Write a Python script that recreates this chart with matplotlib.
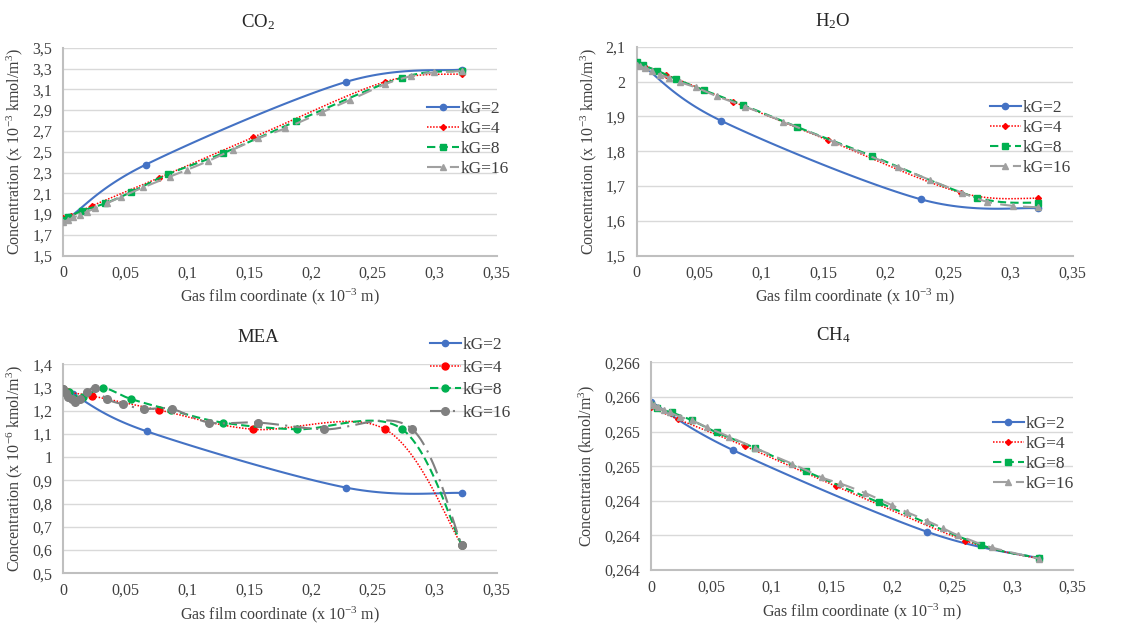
import matplotlib
matplotlib.use("Agg")
import matplotlib.pyplot as plt
import numpy as np
from matplotlib.ticker import FuncFormatter, MultipleLocator

plt.rcParams['font.family'] = ['Liberation Serif', 'DejaVu Serif']
plt.rcParams['mathtext.fontset'] = 'custom'
plt.rcParams['mathtext.rm'] = 'Liberation Serif'
plt.rcParams['mathtext.it'] = 'Liberation Serif:italic'

series_labels = ['kG=2', 'kG=4', 'kG=8', 'kG=16']

# ---- CO2 (x 1e-3 kmol/m3) ----
co2_x2 = [0, 0.005, 0.0665, 0.228, 0.322]
co2_y2 = [1.843, 1.87, 2.375, 3.17, 3.29]
co2_x4 = [0, 0.006, 0.0229, 0.0775, 0.1535, 0.26, 0.322]
co2_y4 = [1.86, 1.88, 1.978, 2.25, 2.638, 3.173, 3.247]
co2_x8 = [0, 0.004, 0.0148, 0.0337, 0.0544, 0.0848, 0.1287, 0.188, 0.2733, 0.322]
co2_y8 = [1.843, 1.87, 1.93, 2.003, 2.109, 2.285, 2.484, 2.792, 3.212, 3.276]
co2_x16 = [0, 0.004, 0.008, 0.0135, 0.019, 0.026, 0.035, 0.047, 0.0646, 0.086, 0.0996,
           0.117, 0.137, 0.1575, 0.179, 0.2087, 0.2316, 0.26, 0.281, 0.299, 0.322]
co2_y16 = [1.827, 1.843, 1.868, 1.89, 1.923, 1.955, 2.003, 2.067, 2.157, 2.26, 2.324,
           2.41, 2.52, 2.628, 2.724, 2.878, 2.997, 3.15, 3.227, 3.262, 3.275]

# ---- H2O (x 1e-3 kmol/m3) ----
h2o_x2 = [0, 0.005, 0.0674, 0.228, 0.3224]
h2o_y2 = [2.052, 2.045, 1.888, 1.662, 1.636]
h2o_x4 = [0, 0.006, 0.0233, 0.0776, 0.1533, 0.26, 0.3224]
h2o_y4 = [2.054, 2.046, 2.02, 1.942, 1.832, 1.681, 1.665]
h2o_x8 = [0, 0.0048, 0.0166, 0.0316, 0.054, 0.085, 0.1284, 0.189, 0.273, 0.3224]
h2o_y8 = [2.055, 2.047, 2.031, 2.007, 1.975, 1.933, 1.870, 1.786, 1.667, 1.652]
h2o_x16 = [0, 0.003, 0.007, 0.012, 0.0187, 0.026, 0.0348, 0.0476, 0.0642, 0.087, 0.1177,
           0.158, 0.21, 0.2355, 0.261, 0.281, 0.302, 0.3224]
h2o_y16 = [2.047, 2.044, 2.038, 2.03, 2.019, 2.011, 1.998, 1.983, 1.958, 1.928, 1.885,
           1.827, 1.754, 1.717, 1.681, 1.655, 1.643, 1.639]

# ---- MEA (x 1e-6 kmol/m3) ----
mea_x2 = [0, 0.008, 0.0673, 0.2283, 0.3217]
mea_y2 = [1.289, 1.27, 1.1115, 0.869, 0.846]
mea_x4 = [0, 0.004, 0.0229, 0.0775, 0.1535, 0.26, 0.3217]
mea_y4 = [1.292, 1.28, 1.264, 1.203, 1.12, 1.12, 0.622]
mea_x8 = [0, 0.0048, 0.0156, 0.0318, 0.0544, 0.0867, 0.1287, 0.1885, 0.2733, 0.3217]
mea_y8 = [1.292, 1.279, 1.258, 1.298, 1.251, 1.203, 1.149, 1.12, 1.122, 0.622]
mea_x16 = [0, 0.002, 0.004, 0.0067, 0.0094, 0.0135, 0.0188, 0.0256, 0.035, 0.048, 0.065,
           0.0875, 0.118, 0.1575, 0.2105, 0.2813, 0.3217]
mea_y16 = [1.292, 1.275, 1.258, 1.249, 1.238, 1.25, 1.279, 1.298, 1.251, 1.228, 1.208,
           1.208, 1.149, 1.149, 1.12, 1.123, 0.622]

# ---- CH4 (kmol/m3) ----
ch4_x2 = [0, 0.0678, 0.2288, 0.3224]
ch4_y2 = [0.265545, 0.264987, 0.264043, 0.263735]
ch4_x4 = [0, 0.0227, 0.078, 0.1533, 0.2607, 0.3224]
ch4_y4 = [0.26548, 0.26534, 0.26503, 0.26457, 0.26394, 0.26373]
ch4_x8 = [0, 0.0047, 0.0172, 0.0338, 0.0545, 0.0863, 0.1287, 0.1893, 0.2737, 0.3224]
ch4_y8 = [0.26551, 0.26547, 0.26542, 0.26533, 0.26519, 0.26501, 0.26474, 0.26438,
          0.26389, 0.26374]
ch4_x16 = [0, 0.0025, 0.006, 0.0108, 0.0157, 0.024, 0.0338, 0.0462, 0.065, 0.0863, 0.1168,
           0.1417, 0.157, 0.1776, 0.1998, 0.2122, 0.2288, 0.2427, 0.2551, 0.2828, 0.3224]
ch4_y16 = [0.26553, 0.26551, 0.26548, 0.26545, 0.26542, 0.26537, 0.26533, 0.26525,
           0.26514, 0.26501, 0.26483, 0.26467, 0.2646, 0.26449, 0.26435, 0.26427,
           0.26417, 0.26408, 0.264, 0.26386, 0.26373]

colors = ['#4472C4', '#FF0000', '#00B050', '#A0A0A0']
styles = ['-', (0, (1, 1)), (0, (4, 2)), (0, (7, 4))]
widths = [1.5, 1.1, 1.5, 1.5]


def smooth(x, y, n=30):
    # Excel-like smoothed line: cubic Bezier through the points
    x = np.asarray(x, float)
    y = np.asarray(y, float)
    px = np.concatenate([[x[0]], x, [x[-1]]])
    py = np.concatenate([[y[0]], y, [y[-1]]])
    xs, ys = [x[0]], [y[0]]
    t = np.linspace(0, 1, n)[1:]
    for i in range(1, len(px) - 2):
        p0 = np.array([px[i], py[i]])
        p3 = np.array([px[i + 1], py[i + 1]])
        p1 = p0 + (np.array([px[i + 1], py[i + 1]]) - np.array([px[i - 1], py[i - 1]])) / 6
        p2 = p3 - (np.array([px[i + 2], py[i + 2]]) - np.array([px[i], py[i]])) / 6
        b = ((1 - t) ** 3)[:, None] * p0 + (3 * (1 - t) ** 2 * t)[:, None] * p1 \
            + (3 * (1 - t) * t ** 2)[:, None] * p2 + (t ** 3)[:, None] * p3
        xs.extend(b[:, 0])
        ys.extend(b[:, 1])
    return np.array(xs), np.array(ys)


def comma(fmt):
    return FuncFormatter(lambda v, p: fmt(v).replace('.', ','))


def panel(rect, data, markers, msizes, ylim, ystep, yfmt, title, title_xy,
          ylabel, leg_anchor, leg_spacing, cols=colors, lss=styles):
    ax = fig.add_axes(rect)
    for k, (x, y) in enumerate(data):
        sx, sy = smooth(x, y)
        ax.plot(sx, sy, color=cols[k], linestyle=lss[k], linewidth=widths[k],
                zorder=2 + k)
        ax.plot(x, y, linestyle='none', marker=markers[k], markersize=msizes[k],
                color=cols[k], zorder=2 + k)
        ax.plot([], [], color=cols[k], linestyle=lss[k], linewidth=widths[k],
                marker=markers[k], markersize=msizes[k], label=series_labels[k])
    ax.set_xlim(0, 0.35)
    ax.set_ylim(*ylim)
    ax.xaxis.set_major_locator(MultipleLocator(0.05))
    ax.set_yticks(np.arange(ylim[0], ylim[1] + ystep / 2, ystep))
    ax.xaxis.set_major_formatter(comma(lambda v: f'{round(v, 3):g}'))
    ax.yaxis.set_major_formatter(comma(yfmt))
    ax.grid(axis='y', color='#D9D9D9', linewidth=1)
    ax.set_axisbelow(True)
    for s in ['top', 'right']:
        ax.spines[s].set_visible(False)
    for s in ['left', 'bottom']:
        ax.spines[s].set_color('#BFBFBF')
        ax.spines[s].set_linewidth(1.5)
    ax.tick_params(length=0, labelsize=11.5, colors='#404040')
    ax.tick_params(axis='y', pad=8)
    ax.tick_params(axis='x', pad=7)
    ax.set_xlabel(r'Gas film coordinate (x 10$^{-3}$ m)', fontsize=11.5, color='#404040',
                  labelpad=4)
    ax.set_ylabel(ylabel, fontsize=11.5, color='#404040', labelpad=5)
    fig.text(title_xy[0] / W, 1 - title_xy[1] / H, title, fontsize=13.5, ha='center',
             va='center', color='#262626')
    ax.legend(loc='center left', bbox_to_anchor=leg_anchor, frameon=False, fontsize=12.5,
              handlelength=1.8, handletextpad=0.1, labelspacing=leg_spacing,
              borderpad=0, labelcolor='#404040')
    return ax


W, H = 1135, 628
fig = plt.figure(figsize=(W / 100, H / 100), dpi=100)

tri = ['o', 'D', 's', '^']
panel([63.3 / W, 1 - 255.7 / H, 433.4 / W, 208 / H],
      [(co2_x2, co2_y2), (co2_x4, co2_y4), (co2_x8, co2_y8), (co2_x16, co2_y16)],
      tri, [4.5, 3, 4.5, 4.5], (1.5, 3.5), 0.2, lambda v: f'{round(v, 2):g}',
      'CO$_2$', (258, 22), r'Concentration (x 10$^{-3}$ kmol/m$^3$)', (0.82, 0.563), 0.22)

panel([636.7 / W, 1 - 255.7 / H, 436 / W, 209 / H],
      [(h2o_x2, h2o_y2), (h2o_x4, h2o_y4), (h2o_x8, h2o_y8), (h2o_x16, h2o_y16)],
      tri, [4.5, 3, 4.5, 4.5], (1.5, 2.1), 0.1, lambda v: f'{round(v, 2):g}',
      'H$_2$O', (833, 21), r'Concentration (x 10$^{-3}$ kmol/m$^3$)', (0.79, 0.565), 0.22)

panel([63.3 / W, 1 - 573.3 / H, 433.4 / W, 209 / H],
      [(mea_x2, mea_y2), (mea_x4, mea_y4), (mea_x8, mea_y8), (mea_x16, mea_y16)],
      ['o', 'o', 'o', 'o'], [4.5, 5, 5, 5.5], (0.5, 1.4), 0.1, lambda v: f'{round(v, 2):g}',
      'MEA', (258, 337), r'Concentration (x 10$^{-6}$ kmol/m$^3$)', (0.825, 0.93), 0.38,
      cols=['#4472C4', '#FF0000', '#00B050', '#808080'],
      lss=['-', (0, (1, 1)), (0, (4, 2)), (0, (8, 3, 1, 3))])

panel([651 / W, 1 - 570 / H, 421.7 / W, 207.7 / H],
      [(ch4_x2, ch4_y2), (ch4_x4, ch4_y4), (ch4_x8, ch4_y8), (ch4_x16, ch4_y16)],
      tri, [4.5, 3, 4.5, 4.5], (0.2636, 0.2660), 0.0004, lambda v: f'{round(v, 3):.3f}',
      'CH$_4$', (833, 335), r'Concentration (kmol/m$^3$)', (0.79, 0.558), 0.22)

fig.savefig('out.png', dpi=100)
